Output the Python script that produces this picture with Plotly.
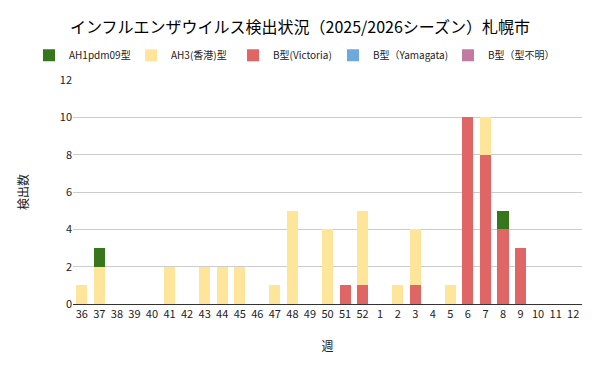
import plotly.graph_objects as go

weeks = ["36","37","38","39","40","41","42","43","44","45","46","47","48","49","50","51","52",
         "1","2","3","4","5","6","7","8","9","10","11","12"]
ah1 = [0,1,0,0,0,0,0,0,0,0,0,0,0,0,0,0,0, 0,0,0,0,0,0,0,1,0,0,0,0]
ah3 = [1,2,0,0,0,2,0,2,2,2,0,1,5,0,4,0,4, 0,1,3,0,1,0,2,0,0,0,0,0]
bvic = [0,0,0,0,0,0,0,0,0,0,0,0,0,0,0,1,1, 0,0,1,0,0,10,8,4,3,0,0,0]
byam = [0]*29
bunk = [0]*29

font = "Noto Sans CJK JP"
title_text = "インフルエンザウイルス検出状況（2025/2026シーズン）札幌市"

fig = go.Figure()
# (name, values, colour, legend id) in stacking order, bottom first
series = [
    ("B型(Victoria)", bvic, "#e06666", "legend3"),
    ("AH3(香港)型", ah3, "#ffe599", "legend2"),
    ("AH1pdm09型", ah1, "#38761d", "legend"),
    ("B型（Yamagata)", byam, "#6fa8dc", "legend4"),
    ("B型（型不明）", bunk, "#c27ba0", "legend5"),
]
for name, vals, col, lg in series:
    fig.add_trace(go.Bar(x=weeks, y=vals, name=name, legend=lg, showlegend=True,
                         marker=dict(color=col, line=dict(width=0))))

# page body has an 8px margin, so the figure is sized to fit the 601x371 window
plot_left, plot_w = 73, 509
legend_x = [29, 131, 233, 333, 448]   # left edges in page pixels
legends = {}
for i, px in enumerate(legend_x):
    key = "legend" if i == 0 else f"legend{i+1}"
    legends[key] = dict(orientation="h", x=(px - plot_left) / plot_w, xanchor="left",
                        y=1.11, yanchor="middle", font=dict(size=10, color="#222"),
                        bgcolor="rgba(0,0,0,0)")

fig.update_layout(
    showlegend=True,
    barmode="stack",
    bargap=0.37,
    width=593, height=363,
    margin=dict(l=65, r=19, t=72, b=67),
    paper_bgcolor="white", plot_bgcolor="white",
    font=dict(family=font, size=11, color="#222"),
    xaxis=dict(type="category", tickfont=dict(size=11), showline=True, linecolor="#333",
               linewidth=1, ticks="", title=dict(text="週", font=dict(size=12), standoff=22)),
    yaxis=dict(range=[0, 12], dtick=2, gridcolor="#cccccc", zeroline=False, showline=False,
               tickfont=dict(size=11), ticks="",
               title=dict(text="検出数", font=dict(size=12), standoff=28)),
    annotations=[dict(text=title_text, xref="paper", yref="paper", x=(300 - plot_left) / plot_w,
                      y=(304 - 26) / 224, xanchor="center", yanchor="middle", showarrow=False,
                      font=dict(size=16, color="#000", family=font))],
    **legends,
)
fig.write_html("out.html")
